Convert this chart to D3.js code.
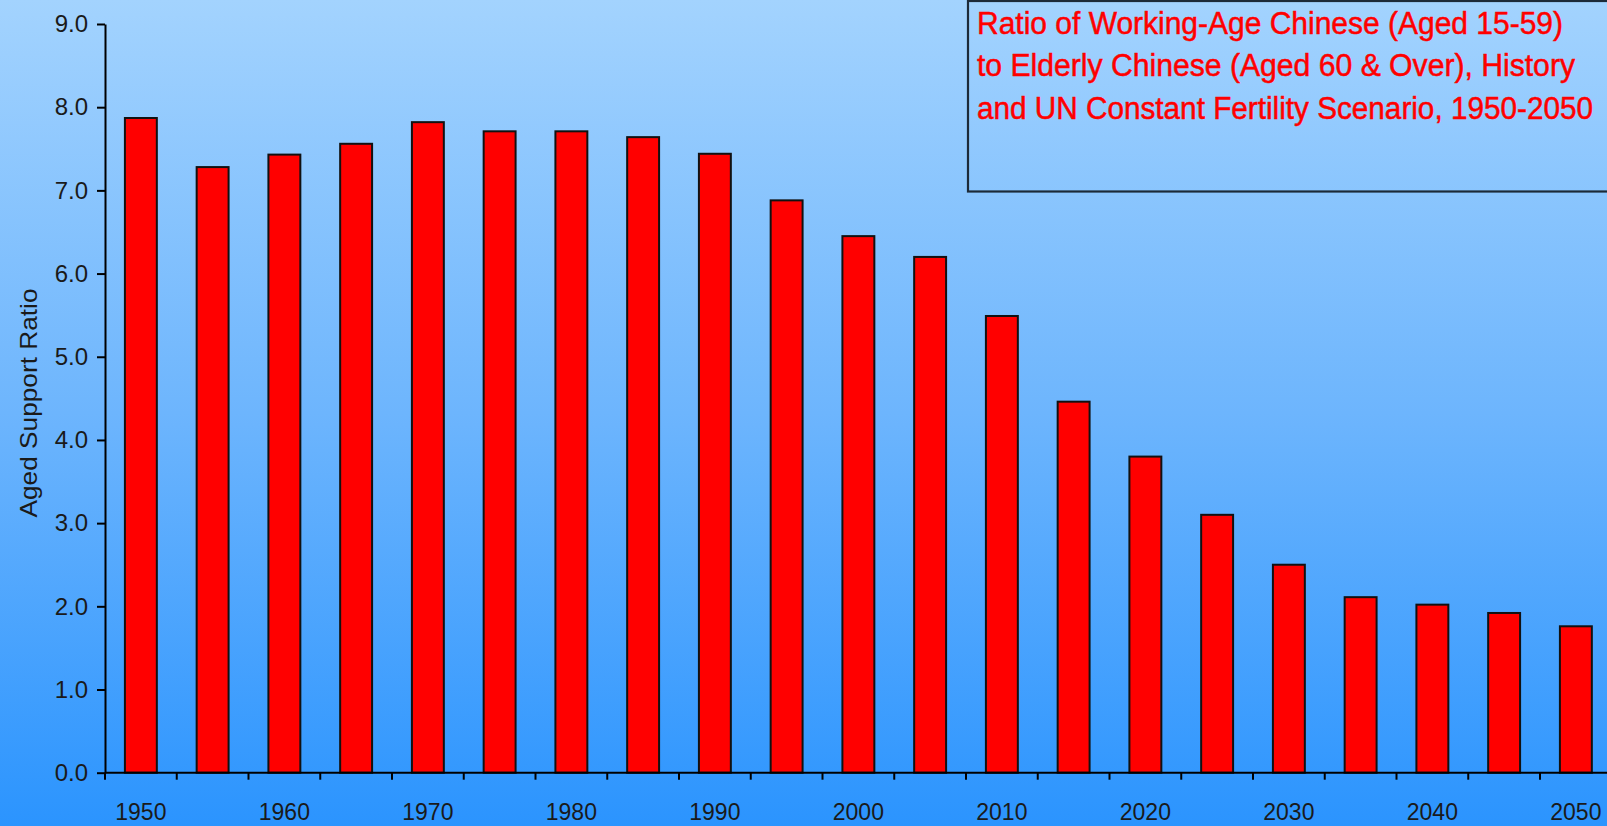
<!DOCTYPE html>
<html>
<head>
<meta charset="utf-8">
<script src="https://cdn.jsdelivr.net/npm/d3@7"></script>
<style>
  html, body { margin: 0; padding: 0; overflow: hidden; }
  body { width: 1607px; height: 826px; }
  text { font-family: "Liberation Sans", Arial, sans-serif; }
</style>
</head>
<body>
<script>
/* aged support ratio, China 1950-2050 */

var years = ["1950","1955","1960","1965","1970","1975","1980","1985","1990","1995","2000",
             "2005","2010","2015","2020","2025","2030","2035","2040","2045","2050"];
var ratios = [7.87, 7.28, 7.43, 7.56, 7.82, 7.71, 7.71, 7.64, 7.44, 6.88, 6.45,
              6.20, 5.49, 4.46, 3.80, 3.10, 2.50, 2.11, 2.02, 1.92, 1.76];
var yTicks = [0, 1, 2, 3, 4, 5, 6, 7, 8, 9];
var xLabels = ["1950","1960","1970","1980","1990","2000","2010","2020","2030","2040","2050"];
var titleLines = ["Ratio of Working-Age Chinese (Aged 15-59)",
                  "to Elderly Chinese (Aged 60 & Over), History",
                  "and UN Constant Fertility Scenario, 1950-2050"];
var yTitle = "Aged Support Ratio";

var W = 1607, H = 826;

var svg = d3.select("body").append("svg")
    .attr("width", W)
    .attr("height", H);

var grad = svg.append("defs").append("linearGradient")
    .attr("id", "bg")
    .attr("x1", 0).attr("y1", 0).attr("x2", 0).attr("y2", 1);
grad.append("stop").attr("offset", "0%").attr("stop-color", "#a3d3fe");
grad.append("stop").attr("offset", "50%").attr("stop-color", "#6db5fd");
grad.append("stop").attr("offset", "100%").attr("stop-color", "#2b94fe");

svg.append("rect")
    .attr("width", W)
    .attr("height", H)
    .attr("fill", "url(#bg)");

var left = 105, step = 71.75;
var x = d3.scaleBand()
    .domain(years)
    .range([left, left + step * years.length])
    .paddingInner(0.555)
    .paddingOuter(0.2775);

var y = d3.scaleLinear()
    .domain([0, 9])
    .range([772.7, 24]);

// bars
svg.selectAll("rect.bar")
    .data(years)
    .enter()
    .append("rect")
    .attr("class", "bar")
    .attr("x", function(d){ return x(d); })
    .attr("y", function(d, i){ return y(ratios[i]); })
    .attr("width", x.bandwidth())
    .attr("height", function(d, i){ return y(0) - y(ratios[i]); })
    .attr("fill", "#ff0000")
    .attr("stroke", "#111")
    .attr("stroke-width", 2);

// y axis
var yAxis = svg.append("g")
    .attr("transform", "translate(" + left + ",0)")
    .call(d3.axisLeft(y)
        .tickValues(yTicks)
        .tickFormat(d3.format(".1f"))
        .tickSize(8)
        .tickSizeOuter(0)
        .tickPadding(9));
yAxis.select(".domain").attr("stroke", "#000").attr("stroke-width", 2);
yAxis.selectAll(".tick line").attr("stroke", "#000").attr("stroke-width", 2);
yAxis.selectAll(".tick text")
    .attr("font-size", 24)
    .attr("fill", "#1a1a1a")
    .style("font-family", "'Liberation Sans', Arial, sans-serif");

// x axis: line plus ticks on the band edges
svg.append("line")
    .attr("x1", left).attr("x2", W)
    .attr("y1", y(0)).attr("y2", y(0))
    .attr("stroke", "#000")
    .attr("stroke-width", 2);

var edges = d3.range(years.length + 1).map(function(i){ return left + i * x.step(); });
svg.selectAll("line.xtick")
    .data(edges)
    .enter()
    .append("line")
    .attr("class", "xtick")
    .attr("x1", function(d){ return d; })
    .attr("x2", function(d){ return d; })
    .attr("y1", y(0))
    .attr("y2", y(0) + 7)
    .attr("stroke", "#000")
    .attr("stroke-width", 2);

svg.selectAll("text.xlab")
    .data(xLabels)
    .enter()
    .append("text")
    .attr("class", "xlab")
    .attr("x", function(d){ return x(d) + x.bandwidth() / 2; })
    .attr("y", 820)
    .attr("text-anchor", "middle")
    .attr("font-size", 23)
    .attr("fill", "#1a1a1a")
    .text(function(d){ return d; });

// y title
svg.append("text")
    .attr("transform", "translate(37,403) rotate(-90)")
    .attr("text-anchor", "middle")
    .attr("font-size", 24)
    .attr("fill", "#1a1a1a")
    .attr("textLength", 229)
    .attr("lengthAdjust", "spacingAndGlyphs")
    .text(yTitle);

// title box
svg.append("rect")
    .attr("x", 968)
    .attr("y", 1)
    .attr("width", 700)
    .attr("height", 190.5)
    .attr("fill", "none")
    .attr("stroke", "#1c2a38")
    .attr("stroke-width", 2.2);

var titleWidths = [586, 598, 616];
svg.selectAll("text.title")
    .data(titleLines)
    .enter()
    .append("text")
    .attr("class", "title")
    .attr("x", 977)
    .attr("y", function(d, i){ return 33.5 + i * 42.5; })
    .attr("font-size", 31)
    .attr("fill", "#ff0000")
    .attr("stroke", "#ff0000")
    .attr("stroke-width", 0.5)
    .attr("textLength", function(d, i){ return titleWidths[i]; })
    .attr("lengthAdjust", "spacingAndGlyphs")
    .text(function(d){ return d; });
</script>
</body>
</html>
